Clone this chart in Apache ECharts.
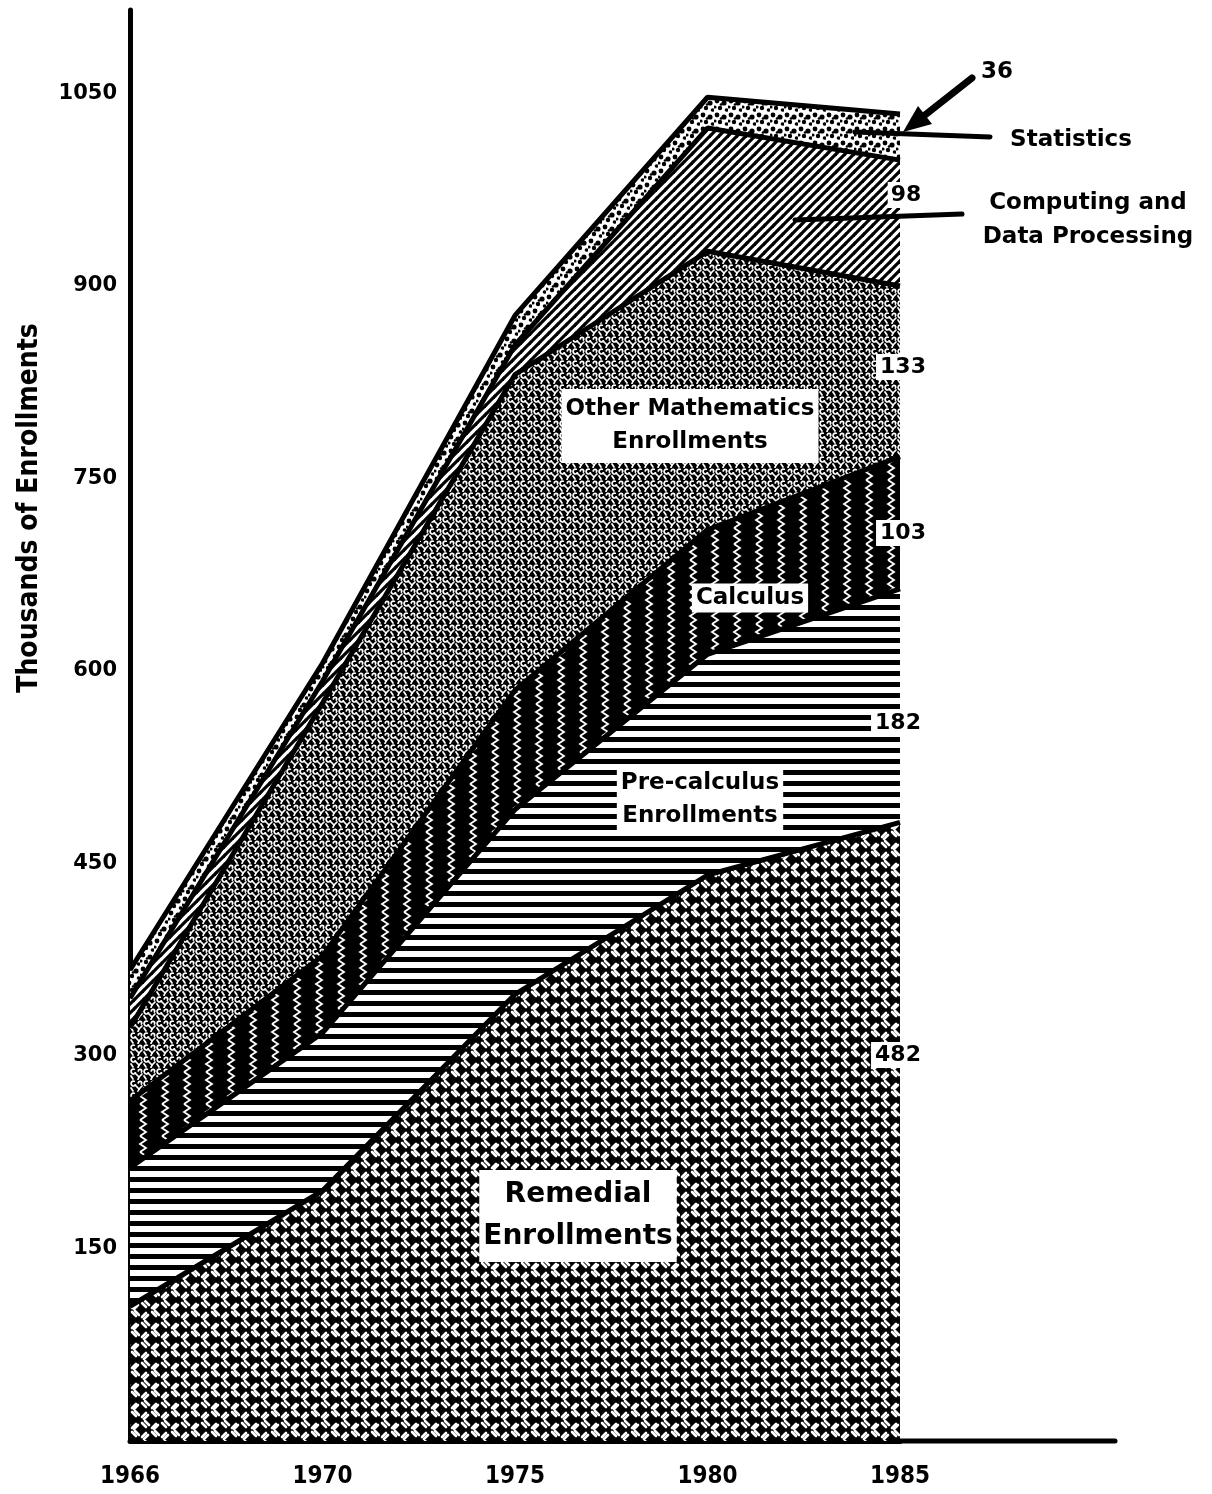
<!DOCTYPE html>
<html>
<head>
<meta charset="utf-8">
<script src="https://cdn.jsdelivr.net/npm/echarts@6/dist/echarts.min.js"></script>
<style>
html,body{margin:0;padding:0;background:#fff;}
#chart{width:1212px;height:1494px;}
</style>
</head>
<body>
<div id="chart"></div>
<script>
// ---- data (thousands of enrollments) ----
const years = ['1966', '1970', '1975', '1980', '1985'];
const remedial   = [105, 195, 348, 441, 482];
const precalc    = [108, 123, 144, 172, 182];
const calculus   = [52, 60, 93, 97, 103];
const otherMath  = [57, 197, 246, 217, 133];
const computing  = [23, 17, 23, 96, 98];
const statistics = [22, 14, 23, 24, 36];
const yTicks = [150, 300, 450, 600, 750, 900, 1050];

// ---- fill patterns ----
function pat(w, h, draw) {
  const c = document.createElement('canvas');
  c.width = w; c.height = h;
  const g = c.getContext('2d');
  draw(g, w, h);
  return { image: c, repeat: 'repeat' };
}
function seg(g, x1, y1, x2, y2) { g.beginPath(); g.moveTo(x1, y1); g.lineTo(x2, y2); g.stroke(); }

const patRemedial = pat(20, 20, (g, w, h) => {
  g.fillStyle = '#000'; g.fillRect(0, 0, w, h);
  g.strokeStyle = '#fff'; g.lineWidth = 2.6; g.lineCap = 'round';
  // basket weave of short white dashes
  seg(g, 2, 3, 6, 7); seg(g, 5, 1, 9, 5);
  seg(g, 12, 8, 16, 4); seg(g, 14, 9, 18, 5);
  seg(g, 2, 17, 6, 13); seg(g, 4, 19, 8, 15);
  seg(g, 12, 12, 16, 16); seg(g, 15, 11, 19, 15);
});
const patPrecalc = pat(4, 11, (g, w, h) => {
  g.fillStyle = '#fff'; g.fillRect(0, 0, w, h);
  g.fillStyle = '#000'; g.fillRect(0, 0, w, 5);
});
const patCalc = pat(22, 16, (g, w, h) => {
  g.fillStyle = '#000'; g.fillRect(0, 0, w, h);
  g.strokeStyle = '#fff'; g.lineWidth = 1.8;
  g.beginPath(); g.moveTo(8, 0); g.lineTo(14, 4); g.lineTo(8, 8); g.lineTo(14, 12); g.lineTo(8, 16); g.stroke();
});
const patOther = pat(13, 12, (g, w, h) => {
  g.fillStyle = '#000'; g.fillRect(0, 0, w, h);
  g.strokeStyle = '#fff'; g.lineWidth = 1.7; g.lineCap = 'round';
  g.beginPath(); g.arc(3.5, 3.5, 2.4, Math.PI * 0.2, Math.PI * 1.6); g.stroke();
  seg(g, 5, 5, 9, 9); seg(g, 9, 9, 12, 6); seg(g, 9, 9, 8, 11.5);
  g.beginPath(); g.arc(10, 3, 1.7, Math.PI, Math.PI * 2.2); g.stroke();
  seg(g, 1, 8, 3, 11);
});
const patComputing = pat(9, 9, (g, s) => {
  g.fillStyle = '#fff'; g.fillRect(0, 0, s, s);
  g.strokeStyle = '#000'; g.lineWidth = 3.2;
  seg(g, -1, s + 1, s + 1, -1); seg(g, -1, 1, 1, -1); seg(g, s - 1, s + 1, s + 1, s - 1);
});
const patStats = pat(14, 14, (g, w, h) => {
  g.fillStyle = '#fff'; g.fillRect(0, 0, w, h);
  g.fillStyle = '#000';
  [[3, 3, 2.4], [10, 5, 2.6], [6, 10, 2.2], [12.5, 12, 1.8], [1, 9, 1.6], [7, 6.5, 1.3]].forEach(p => {
    g.beginPath(); g.arc(p[0], p[1], p[2], 0, Math.PI * 2); g.fill();
  });
});

function areaSeries(name, data, fill) {
  return {
    name: name, type: 'line', stack: 'total', data: data,
    symbol: 'none', smooth: false,
    lineStyle: { color: '#000', width: 5 },
    areaStyle: { color: fill, opacity: 1 },
    emphasis: { disabled: true },
    silent: true
  };
}

const chart = echarts.init(document.getElementById('chart'), null, { renderer: 'canvas' });

const FONT = '"DejaVu Sans", "Liberation Sans", sans-serif';
const CFONT = '"DejaVu Sans Condensed", "Liberation Sans Narrow", "DejaVu Sans", sans-serif';
function label(text, x, y, size, opts) {
  return Object.assign({
    type: 'text', z: 100, x: x, y: y,
    style: Object.assign({
      text: text, font: 'bold ' + size + 'px ' + FONT, fill: '#000',
      align: 'center', verticalAlign: 'middle',
      backgroundColor: '#fff', padding: [3, 6]
    }, opts || {})
  });
}
function line(x1, y1, x2, y2, w) {
  return { type: 'line', z: 100, shape: { x1: x1, y1: y1, x2: x2, y2: y2 },
    style: { stroke: '#000', lineWidth: w, lineCap: 'round' } };
}

const option = {
  backgroundColor: '#fff',
  animation: false,
  grid: { left: 130, right: 312, top: 10, bottom: 53, containLabel: false },
  xAxis: {
    type: 'category', data: years, boundaryGap: false,
    axisLine: { show: true, lineStyle: { color: '#000', width: 5 } },
    axisTick: { show: false },
    axisLabel: { color: '#000', fontFamily: CFONT, fontWeight: 'bold', fontSize: 24, margin: 24 },
    splitLine: { show: false }
  },
  yAxis: {
    type: 'value', min: 0, max: 1115, interval: 150,
    axisLine: { show: true, lineStyle: { color: '#000', width: 5 } },
    axisTick: { show: false },
    splitLine: { show: false },
    axisLabel: {
      color: '#000', fontFamily: FONT, fontWeight: 'bold', fontSize: 21, margin: 13,
      formatter: v => (yTicks.indexOf(v) >= 0 ? String(v) : '')
    }
  },
  series: [
    areaSeries('Remedial Enrollments', remedial, patRemedial),
    areaSeries('Pre-calculus Enrollments', precalc, patPrecalc),
    areaSeries('Calculus', calculus, patCalc),
    areaSeries('Other Mathematics Enrollments', otherMath, patOther),
    areaSeries('Computing and Data Processing', computing, patComputing),
    areaSeries('Statistics', statistics, patStats)
  ],
  graphic: [
    // axis title
    { type: 'text', z: 100, x: 30, y: 508, rotation: Math.PI / 2,
      style: { text: 'Thousands of Enrollments', font: 'bold 28px ' + CFONT, fill: '#000',
               align: 'center', verticalAlign: 'middle' } },
    // x-axis extension
    line(900, 1441, 1115, 1441, 5),
    // in-chart labels
    label('Remedial\nEnrollments', 578, 1216, 28, { lineHeight: 42, padding: [4, 4] }),
    label('Pre-calculus\nEnrollments', 700, 800, 23, { lineHeight: 33, padding: [2, 4] }),
    label('Calculus', 750, 598, 23, { padding: [3, 4] }),
    label('Other Mathematics\nEnrollments', 690, 426, 23, { lineHeight: 33, padding: [4, 4] }),
    // end values
    label(String(remedial[4]), 898, 1055, 22, { padding: [2, 4] }),
    label(String(precalc[4]), 898, 723, 22, { padding: [2, 4] }),
    label(String(calculus[4]), 903, 533, 22, { padding: [2, 4] }),
    label(String(otherMath[4]), 903, 367, 22, { padding: [2, 4] }),
    label(String(computing[4]), 906, 195, 22, { padding: [2, 3] }),
    label(String(statistics[4]), 997, 72, 23, { padding: [0, 2] }),
    // series names on right
    label('Statistics', 1071, 140, 23, { padding: [0, 2] }),
    label('Computing and\nData Processing', 1088, 220, 23, { lineHeight: 34, padding: [0, 2] }),
    // pointers
    line(855, 132, 990, 137, 5),
    line(795, 220, 962, 214, 5),
    line(972, 78, 925, 115, 7),
    { type: 'polygon', z: 100, shape: { points: [[903, 132], [932, 124], [918, 106]] },
      style: { fill: '#000' } }
  ]
};
chart.setOption(option);
</script>
</body>
</html>
